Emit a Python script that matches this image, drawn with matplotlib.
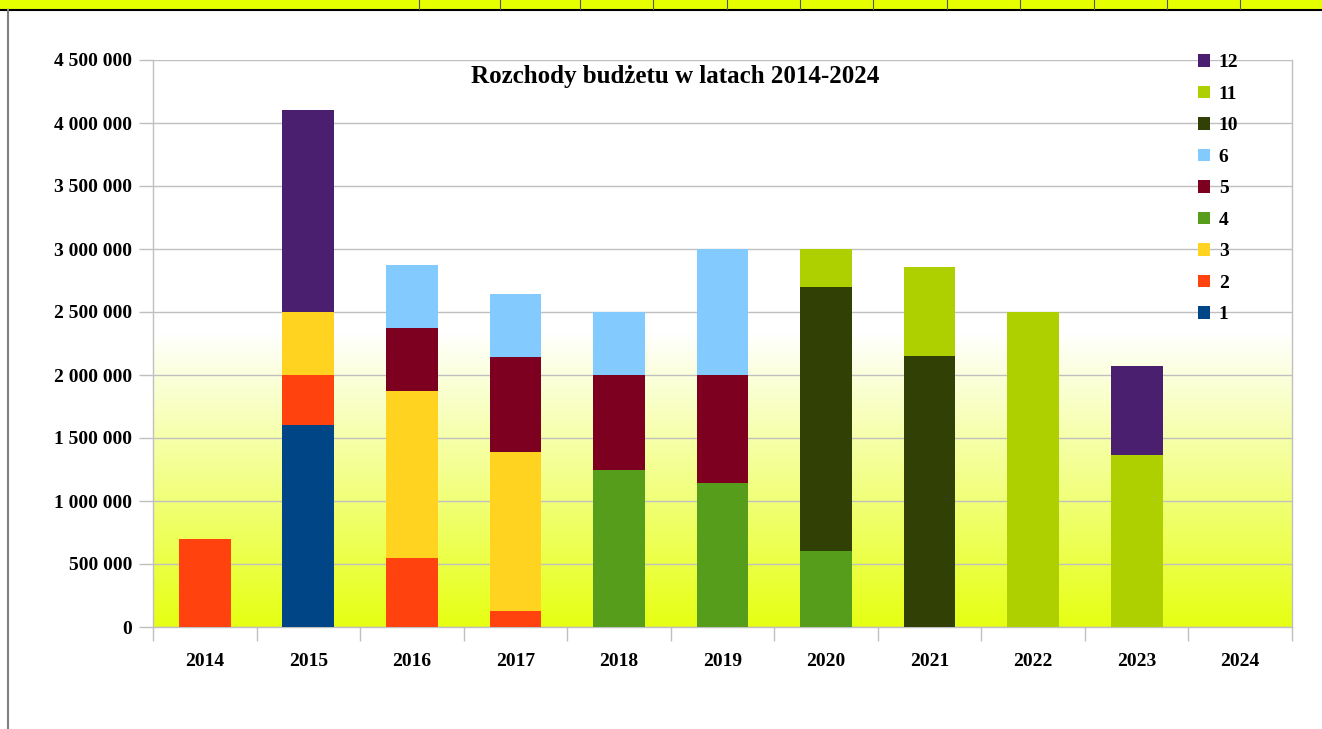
import matplotlib
matplotlib.use("Agg")
import matplotlib.pyplot as plt
import numpy as np
from matplotlib.lines import Line2D
from matplotlib.patches import Rectangle, Patch
from matplotlib.ticker import FuncFormatter

plt.rcParams['font.family'] = ['Liberation Serif', 'DejaVu Serif']
plt.rcParams['font.weight'] = 'bold'

years = ['2014', '2015', '2016', '2017', '2018', '2019', '2020', '2021', '2022', '2023', '2024']
series = ['1', '2', '3', '4', '5', '6', '10', '11', '12']
colors = ['#004586', '#ff420e', '#ffd320', '#579d1c', '#7e0021', '#83caff',
          '#314004', '#aecf00', '#4b1f6f']

s1  = [0, 1600000, 0, 0, 0, 0, 0, 0, 0, 0, 0]
s2  = [700000, 400000, 550000, 125000, 0, 0, 0, 0, 0, 0, 0]
s3  = [0, 500000, 1320000, 1260000, 0, 0, 0, 0, 0, 0, 0]
s4  = [0, 0, 0, 0, 1250000, 1140000, 600000, 0, 0, 0, 0]
s5  = [0, 0, 500000, 755000, 750000, 860000, 0, 0, 0, 0, 0]
s6  = [0, 0, 500000, 500000, 500000, 1000000, 0, 0, 0, 0, 0]
s10 = [0, 0, 0, 0, 0, 0, 2100000, 2150000, 0, 0, 0]
s11 = [0, 0, 0, 0, 0, 0, 300000, 705000, 2500000, 1365000, 0]
s12 = [0, 1600000, 0, 0, 0, 0, 0, 0, 0, 705000, 0]
values = [s1, s2, s3, s4, s5, s6, s10, s11, s12]

W, H = 1322, 729
fig = plt.figure(figsize=(W / 100, H / 100), dpi=100)
ax = fig.add_axes([153 / W, (H - 627) / H, (1292 - 153) / W, (627 - 60) / H])

# background gradient: white at top, yellow at the bottom
n = 300
yy = np.linspace(0, 1, n)[:, None]
t = np.clip((0.52 - yy) / 0.52, 0, 1)
top = np.array([1.0, 1.0, 1.0])
bot = np.array([230, 255, 18]) / 255
img = (top * (1 - t) + bot * t)[:, :, None].transpose(0, 2, 1)
img = np.repeat(img, 2, axis=1)
ax.imshow(img, extent=[0, 1, 0, 1], transform=ax.transAxes, aspect='auto',
          origin='lower', zorder=0, interpolation='bilinear')

x = np.arange(len(years))
bottom = np.zeros(len(years))
for name, vals, c in zip(series, values, colors):
    ax.bar(x, vals, 0.5, bottom=bottom, color=c, label=name, zorder=3, linewidth=0)
    bottom += np.array(vals)

ax.set_xlim(-0.5, len(years) - 0.5)
ax.set_ylim(0, 4500000)
ax.set_yticks(np.arange(0, 4500001, 500000))
ax.yaxis.set_major_formatter(FuncFormatter(lambda v, p: f"{int(v):,}".replace(",", " ")))
ax.grid(axis='y', color='#c0c0c0', linewidth=1.0, zorder=1)
ax.set_axisbelow(True)

ax.set_xticks(np.arange(-0.5, len(years), 1.0))
ax.set_xticklabels([])
ax.set_xticks(x, minor=True)
ax.set_xticklabels(years, minor=True)
ax.tick_params(axis='x', which='major', length=10, color='#c0c0c0', width=1.0)
ax.tick_params(axis='x', which='minor', length=0, pad=19, labelsize=14)
ax.tick_params(axis='y', length=10, color='#c0c0c0', width=1.0, pad=5, labelsize=14)

for side in ['left', 'right', 'bottom']:
    ax.spines[side].set_color('#c0c0c0')
    ax.spines[side].set_linewidth(1.0)
ax.spines['top'].set_visible(False)

fig.text(675 / W, 1 - 77 / H, 'Rozchody budżetu w latach 2014-2024', ha='center', va='center',
         fontsize=18, fontweight='bold')

handles = [Patch(facecolor=c, edgecolor='none') for c in colors][::-1]
fig.legend(handles, series[::-1], loc='upper left', bbox_to_anchor=(1198 / W, 1 - 54 / H),
           frameon=False, fontsize=14, handlelength=0.62, handleheight=0.62,
           handletextpad=0.45, labelspacing=0.74, borderaxespad=0, borderpad=0)

# spreadsheet strip at the top
fig.add_artist(Rectangle((0, 1 - 9 / H), 1, 9 / H, transform=fig.transFigure,
                         facecolor='#e6ff00', edgecolor='none'))
fig.add_artist(Line2D([0, 1], [1 - 9.5 / H] * 2, transform=fig.transFigure, color='black', lw=1.5))
for cx in [419, 500, 580, 653, 727, 800, 873, 947, 1020, 1094, 1167, 1240]:
    fig.add_artist(Line2D([cx / W] * 2, [1 - 9 / H, 1], transform=fig.transFigure,
                          color='#555555', lw=0.8))
fig.add_artist(Line2D([8 / W] * 2, [0, 1 - 10 / H], transform=fig.transFigure,
                      color='#808080', lw=1.5))

fig.savefig('out.png', dpi=100)
